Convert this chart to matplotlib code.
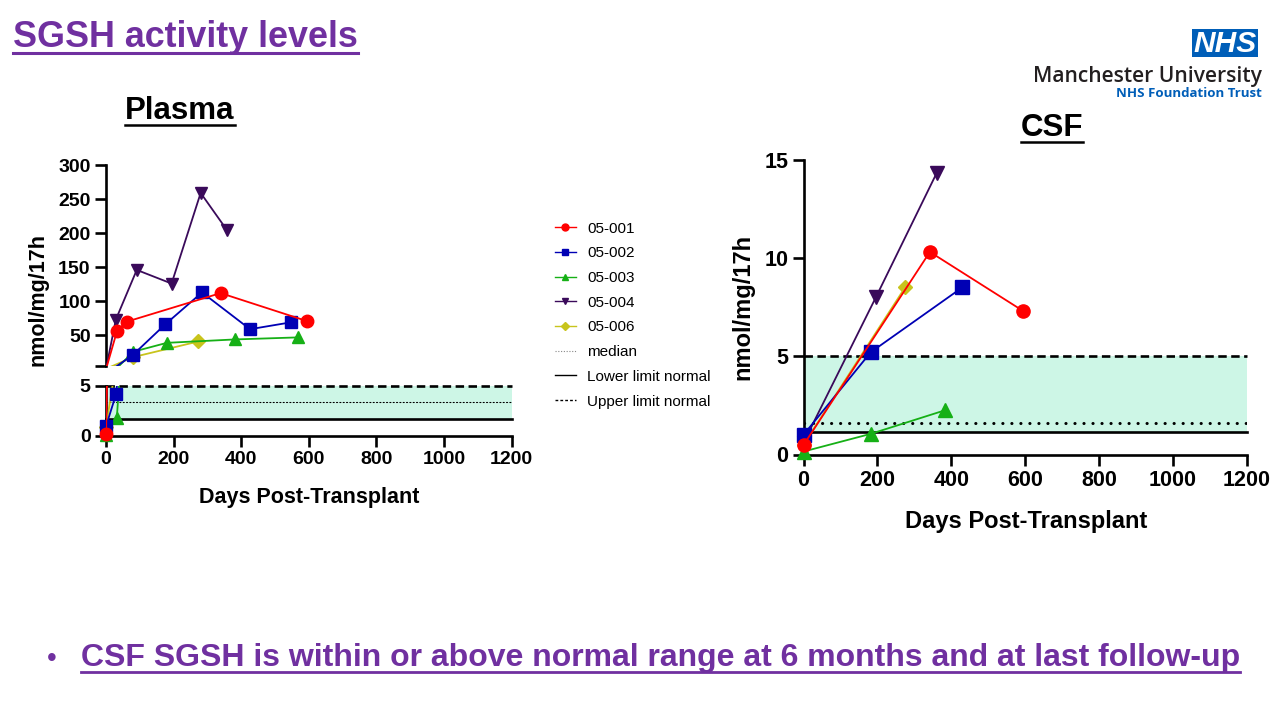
import numpy as np
import matplotlib
matplotlib.use("Agg")
import matplotlib.pyplot as plt
from matplotlib.lines import Line2D
from matplotlib.patches import Rectangle

W, H = 1280, 720
PURPLE = "#7030a0"
FILL = "#cdf6e6"

# ---------- données ----------
labels = ["05-001", "05-002", "05-003", "05-004", "05-006"]
colors = ["#ff0000", "#0000b4", "#16b016", "#3a0a5a", "#c8c41c"]
markers = ["o", "s", "^", "v", "D"]

# Plasma (jours post-greffe, nmol/mg/17h)
plasma_days_001 = [0, 33, 61, 339, 594]
plasma_vals_001 = [0.2, 57, 70, 112, 71]
plasma_days_002 = [0, 30, 79, 175, 284, 426, 546]
plasma_vals_002 = [0.95, 4.2, 21, 66, 113, 59, 69]
plasma_days_003 = [0, 32, 81, 180, 382, 569]
plasma_vals_003 = [0.1, 1.8, 26, 39, 44, 47]
plasma_days_004 = [0, 29, 91, 194, 280, 357]
plasma_vals_004 = [0.3, 73, 146, 126, 259, 205]
plasma_days_006 = [0, 80, 273]
plasma_vals_006 = [0.9, 18, 41]

plasma_median = 3.35
plasma_lln = 1.64
plasma_uln = 5.0

# LCR / CSF
csf_days_001 = [0, 342, 594]
csf_vals_001 = [0.48, 10.3, 7.3]
csf_days_002 = [0, 182, 430]
csf_vals_002 = [1.0, 5.2, 8.5]
csf_days_003 = [0, 182, 383]
csf_vals_003 = [0.15, 1.05, 2.25]
csf_days_004 = [0, 196, 360]
csf_vals_004 = [0.6, 8.0, 14.3]
csf_days_006 = [0, 275]
csf_vals_006 = [0.5, 8.5]

csf_median = 1.6
csf_lln = 1.12
csf_uln = 5.0

x_ticks = [0, 200, 400, 600, 800, 1000, 1200]

plasma = [(plasma_days_001, plasma_vals_001), (plasma_days_002, plasma_vals_002),
          (plasma_days_003, plasma_vals_003), (plasma_days_004, plasma_vals_004),
          (plasma_days_006, plasma_vals_006)]
csf = [(csf_days_001, csf_vals_001), (csf_days_002, csf_vals_002),
       (csf_days_003, csf_vals_003), (csf_days_004, csf_vals_004),
       (csf_days_006, csf_vals_006)]

plt.rcParams["font.family"] = ["Liberation Sans", "DejaVu Sans"]

fig = plt.figure(figsize=(W / 100, H / 100), dpi=100)


def axes_px(left, top, right, bottom):
    return fig.add_axes([left / W, 1 - bottom / H, (right - left) / W, (bottom - top) / H])


def style_axes(ax, fs):
    for s in ["top", "right"]:
        ax.spines[s].set_visible(False)
    for s in ["left", "bottom"]:
        ax.spines[s].set_linewidth(1.9)
    ax.tick_params(width=1.9, length=8, labelsize=fs, pad=3)
    for lab in ax.get_xticklabels() + ax.get_yticklabels():
        lab.set_fontweight("bold")


def draw_series(ax, days, vals, color, marker, ylo, yhi, ms, z):
    days = np.asarray(days, dtype=float)
    vals = np.asarray(vals, dtype=float)
    ax.plot(days, vals, color=color, lw=1.3, zorder=3 + z)
    m = (vals >= ylo) & (vals <= yhi)
    sz = ms * 0.75 if marker == "D" else ms
    ax.plot(days[m], vals[m], ls="none", marker=marker, ms=sz, color=color,
            clip_on=False, zorder=3.5 + z)


def ref_lines(ax, lln, uln, med, med_style, med_lw):
    ax.fill_between([0, 1200], lln, uln, color=FILL, lw=0, zorder=1)
    ax.plot([0, 1200], [lln, lln], color="black", lw=1.9, zorder=2, clip_on=False)
    ax.plot([0, 1200], [uln, uln], color="black", lw=1.9, ls=(0, (3.2, 1.7)),
            zorder=2, clip_on=False)
    ax.plot([0, 1200], [med, med], color="black", lw=med_lw, ls=med_style,
            dash_capstyle="round", zorder=2)


# ordre de tracé : 05-001 au-dessus, 05-006 en dessous
zorders = [4, 3, 2, 1, 0]

# ---------- Plasma (axe coupé) ----------
ax_up = axes_px(106, 165, 511.7, 366)
ax_lo = axes_px(106, 386, 511.7, 435.7)

ax_up.set_xlim(0, 1200)
ax_up.set_ylim(5, 300)
ax_lo.set_xlim(0, 1200)
ax_lo.set_ylim(0, 5)

ref_lines(ax_lo, plasma_lln, plasma_uln, plasma_median, (0, (1, 2)), 0.8)

for (d, v), c, mk, z in zip(plasma, colors, markers, zorders):
    draw_series(ax_up, d, v, c, mk, 5, 300, 9, z)
    draw_series(ax_lo, d, v, c, mk, 0, 5, 9, z)

ax_up.set_yticks([5, 50, 100, 150, 200, 250, 300])
ax_up.set_yticklabels(["", "50", "100", "150", "200", "250", "300"])
ax_up.set_xticks([])
ax_up.spines["bottom"].set_visible(False)
ax_lo.set_yticks([0, 5])
ax_lo.set_xticks(x_ticks)
style_axes(ax_up, 14)
style_axes(ax_lo, 14)

fig.text(37.5 / W, 1 - 299 / H, "nmol/mg/17h", rotation=90, ha="center", va="center",
         fontsize=15.5, fontweight="bold")
fig.text(309 / W, 1 - 503 / H, "Days Post-Transplant", ha="center", va="baseline",
         fontsize=15.5, fontweight="bold")

# ---------- CSF ----------
ax_c = axes_px(803.5, 159.5, 1247, 454.5)
ax_c.set_xlim(0, 1200)
ax_c.set_ylim(0, 15)
ref_lines(ax_c, csf_lln, csf_uln, csf_median, (0, (0.05, 2.9)), 2.2)
for (d, v), c, mk, z in zip(csf, colors, markers, zorders):
    draw_series(ax_c, d, v, c, mk, 0, 15, 9.5, z)
ax_c.set_xticks(x_ticks)
ax_c.set_yticks([0, 5, 10, 15])
style_axes(ax_c, 15.5)

fig.text(743 / W, 1 - 307 / H, "nmol/mg/17h", rotation=90, ha="center", va="center",
         fontsize=17, fontweight="bold")
fig.text(1026 / W, 1 - 528 / H, "Days Post-Transplant", ha="center", va="baseline",
         fontsize=17, fontweight="bold")

# ---------- légende ----------
handles = [Line2D([], [], color=c, marker=mk, lw=1, ms=5 if mk != "D" else 4)
           for c, mk in zip(colors, markers)]
handles += [Line2D([], [], color="#888888", lw=0.8, ls=(0, (1, 1.5))),
            Line2D([], [], color="black", lw=1.0),
            Line2D([], [], color="black", lw=1.0, ls=(0, (2, 1.5)))]
leg_labels = labels + ["median", "Lower limit normal", "Upper limit normal"]
fig.legend(handles, leg_labels, loc="upper left", bbox_to_anchor=(547 / W, 1 - 214 / H),
           frameon=False, fontsize=11, handlelength=1.4, handletextpad=0.75,
           labelspacing=0.7, borderpad=0)

# ---------- titres ----------
t_title = fig.text(13 / W, 1 - 47 / H, "SGSH activity levels", fontsize=25.8,
                   fontweight="bold", color=PURPLE, va="baseline")
t_pl = fig.text(180 / W, 1 - 119 / H, "Plasma", fontsize=22.5, fontweight="bold",
                ha="center", va="baseline")
t_csf = fig.text(1052 / W, 1 - 136 / H, "CSF", fontsize=22.5, fontweight="bold",
                 ha="center", va="baseline")
fig.text(52 / W, 1 - 666 / H, "\u2022", fontsize=20, color=PURPLE, ha="center",
         va="baseline")
t_bul = fig.text(81 / W, 1 - 666 / H,
                 "CSF SGSH is within or above normal range at 6 months and at last follow-up",
                 fontsize=23, fontweight="bold", color=PURPLE, va="baseline")

# ---------- logo ----------
fig.add_artist(Rectangle((1192 / W, 1 - 57 / H), 66 / W, 28 / H,
                         transform=fig.transFigure, color="#005eb8", lw=0))
fig.text(1225 / W, 1 - 43.5 / H, "NHS", color="white", fontsize=21.5, fontweight="bold",
         fontstyle="italic", ha="center", va="center")
fig.text(1262 / W, 1 - 82 / H, "Manchester University", color="#231f20", fontsize=15.1,
         family=["Open Sans", "DejaVu Sans"], fontweight="semibold", ha="right",
         va="baseline")
fig.text(1262 / W, 1 - 97 / H, "NHS Foundation Trust", color="#005eb8", fontsize=9.5,
         fontweight="bold", family=["Open Sans", "DejaVu Sans"], ha="right", va="baseline")

# ---------- soulignements ----------
fig.canvas.draw()
rend = fig.canvas.get_renderer()


def underline(t, y_px, lw, color):
    bb = t.get_window_extent(rend)
    fig.add_artist(Line2D([bb.x0 / W, bb.x1 / W], [1 - y_px / H] * 2,
                          transform=fig.transFigure, color=color, lw=lw))


underline(t_title, 53, 2.2, PURPLE)
underline(t_pl, 125, 1.8, "black")
underline(t_csf, 142, 1.8, "black")
underline(t_bul, 672, 2.0, PURPLE)

fig.savefig("out.png", dpi=100)
